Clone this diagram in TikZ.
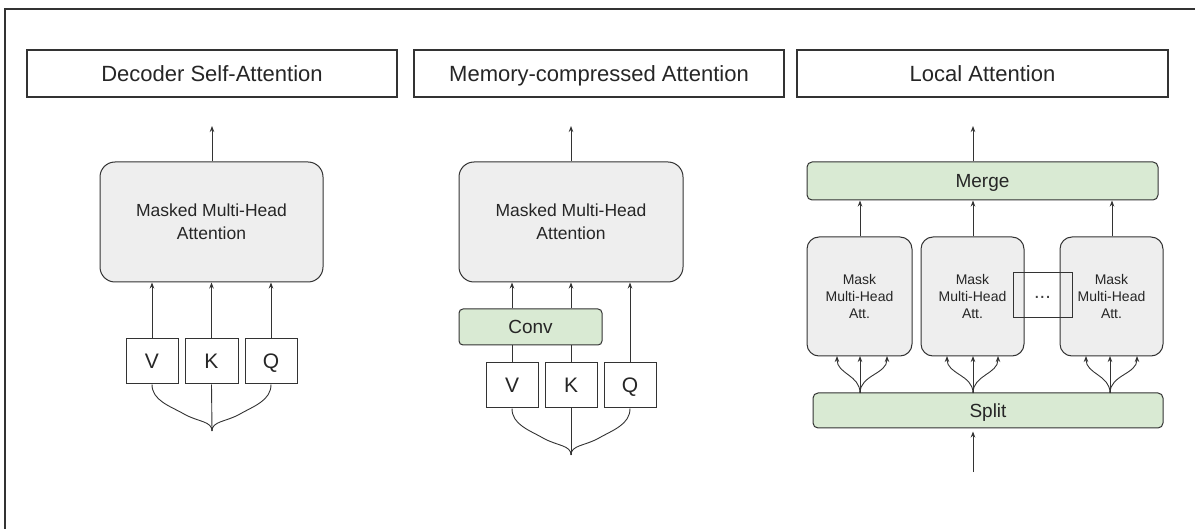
\documentclass[tikz,border=0pt]{standalone}
\usepackage{fontspec}
\setmainfont{Liberation Sans}
\usetikzlibrary{arrows.meta,calc}
\definecolor{lineC}{HTML}{333333}
\definecolor{greenF}{HTML}{D9EAD3}
\definecolor{grayF}{HTML}{EEEEEE}
\tikzset{
  titlebox/.style={draw=lineC, line width=1.1pt, fill=white, inner sep=0pt, minimum height=47pt, text height=16pt, text depth=0pt, font=\fontsize{22}{24}\selectfont, text=black!85},
  attbox/.style={draw=lineC, line width=1pt, fill=grayF, rounded corners=15pt, inner sep=0pt, minimum height=120pt, align=center, font=\fontsize{17.5}{23}\selectfont, text=black!85},
  maskbox/.style={draw=lineC, line width=1pt, fill=grayF, rounded corners=12pt, inner sep=0pt, minimum height=119pt, align=center, font=\fontsize{14}{17}\selectfont, text=black!85},
  greenbox/.style={draw=lineC, line width=1pt, fill=greenF, rounded corners=5pt, inner sep=0pt, align=center, text height=13.6pt, text depth=0pt, font=\fontsize{19}{21}\selectfont, text=black!85},
  letterbox/.style={draw=lineC, line width=1pt, fill=white, inner sep=0pt, minimum width=52pt, minimum height=45pt, text height=15pt, text depth=0pt, font=\fontsize{21}{23}\selectfont, text=black!85},
  dotsbox/.style={draw=lineC, line width=1pt, inner sep=0pt, minimum width=59pt, minimum height=45pt, text height=6pt, text depth=0pt, font=\fontsize{20}{22}\selectfont, text=black!75},
  conn/.style={draw=lineC, line width=0.9pt},
  arr/.style={conn, -{Stealth[length=6pt,width=4.5pt]}},
  frameline/.style={draw=lineC, line width=1.3pt}
}
\begin{document}
\begin{tikzpicture}[x=1pt,y=-1pt]
\useasboundingbox (0,0) rectangle (1195,529);
\fill[white] (0,0) rectangle (1195,529);
\coordinate (fb) at (5,529);
\coordinate (fc) at (5,9);
\coordinate (fr) at (1195,9);
\draw[frameline] (fb) -- (fc) -- (fr);

% titles
\node[titlebox, minimum width=370pt] (t1) at (212,73.5) {Decoder Self-Attention};
\node[titlebox, minimum width=370pt] (t2) at (599,73.5) {Memory-compressed Attention};
\node[titlebox, minimum width=371pt] (t3) at (982.5,73.5) {Local Attention};

% panel 1
\node[attbox, minimum width=223pt] (mha1) at (211.5,222) {Masked Multi-Head\\Attention};
\node[letterbox] (V1) at (152,361.5) {V};
\node[letterbox, minimum width=53pt] (K1) at (211.5,361.5) {K};
\node[letterbox] (Q1) at (271,361.5) {Q};
\coordinate (o1) at (212,126);
\coordinate (b1) at (212,431);
\draw[arr] (mha1.north -| o1) -- (o1);
\draw[arr] (V1.north) -- (V1.north |- mha1.south);
\draw[arr] (K1.north) -- (K1.north |- mha1.south);
\draw[arr] (Q1.north) -- (Q1.north |- mha1.south);
\draw[conn] (K1.south) -- (b1);
\draw[conn] (V1.south) .. controls +(0,16) and +(-14,-8) .. ($(b1)+(-28,-17)$) .. controls +(14,8) and +(0,-10) .. (b1);
\draw[conn] (Q1.south) .. controls +(0,16) and +(14,-8) .. ($(b1)+(28,-17)$) .. controls +(-14,8) and +(0,-10) .. (b1);

% panel 2
\node[attbox, minimum width=224pt] (mha2) at (571,222) {Masked Multi-Head\\Attention};
\node[greenbox, minimum width=143pt, minimum height=36pt, rounded corners=4pt] (conv) at (530.5,327) {Conv};
\node[letterbox] (V2) at (512,385.5) {V};
\node[letterbox] (K2) at (571,385.5) {K};
\node[letterbox] (Q2) at (630,385.5) {Q};
\coordinate (o2) at (571,126);
\coordinate (b2) at (571,455);
\draw[arr] (mha2.north -| o2) -- (o2);
\draw[conn] (V2.north) -- (V2.north |- conv.south);
\draw[conn] (K2.north) -- (K2.north |- conv.south);
\draw[arr] (conv.north -| V2.north) -- (V2.north |- mha2.south);
\draw[arr] (conv.north -| K2.north) -- (K2.north |- mha2.south);
\draw[arr] (Q2.north) -- (Q2.north |- mha2.south);
\draw[conn] (K2.south) -- (b2);
\draw[conn] (V2.south) .. controls +(0,16) and +(-14,-8) .. ($(b2)+(-28,-17)$) .. controls +(14,8) and +(0,-10) .. (b2);
\draw[conn] (Q2.south) .. controls +(0,16) and +(14,-8) .. ($(b2)+(28,-17)$) .. controls +(-14,8) and +(0,-10) .. (b2);

% panel 3
\node[greenbox, minimum width=351pt, minimum height=38pt] (merge) at (982.5,181) {Merge};
\node[maskbox, minimum width=105pt] (mA) at (859.5,296.5) {Mask\\Multi-Head\\Att.};
\node[maskbox, minimum width=103pt] (mB) at (972.5,296.5) {Mask\\Multi-Head\\Att.};
\node[maskbox, minimum width=103pt] (mC) at (1111.5,296.5) {Mask\\Multi-Head\\Att.};
\node[dotsbox] (dots) at (1042.5,295.5) {...};
\node[greenbox, minimum width=350pt, minimum height=35pt] (split) at (988,410.5) {Split};
\coordinate (o3) at (973,126);
\coordinate (i3) at (973,472);
\draw[arr] (merge.north -| o3) -- (o3);
\draw[arr] (i3) -- ($(i3 |- split.south)+(0,3)$);
\draw[arr] (mA.north -| 860,0) -- (merge.south -| 860,0);
\draw[arr] (mB.north -| 973,0) -- (merge.south -| 973,0);
\draw[arr] (mC.north -| 1112,0) -- (merge.south -| 1112,0);

% fans
\foreach \nm/\cx/\lx/\rx in {A/860/837/887, B/973/947/998, C/1110/1086/1137}{
  \coordinate (s\nm) at (\cx,393);
  \coordinate (l\nm) at (\lx,356);
  \coordinate (c\nm) at (\cx,356);
  \coordinate (r\nm) at (\rx,356);
  \draw[arr] (s\nm) -- (c\nm);
  \draw[arr] (s\nm) .. controls +(0,-18) and +(0,18) .. (l\nm);
  \draw[arr] (s\nm) .. controls +(0,-18) and +(0,18) .. (r\nm);
}
\end{tikzpicture}
\end{document}
